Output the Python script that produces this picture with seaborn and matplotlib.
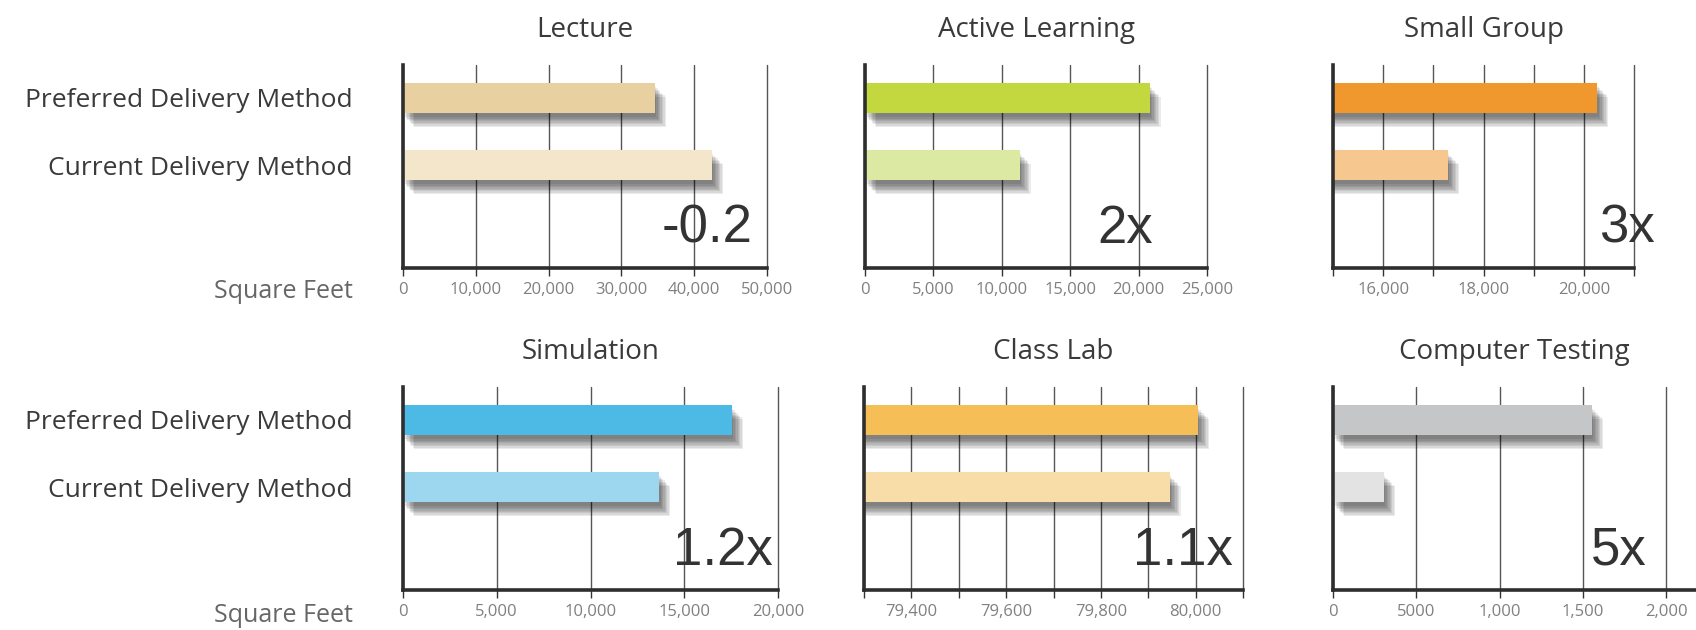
import matplotlib
matplotlib.use("Agg")
import matplotlib.pyplot as plt
import matplotlib.patheffects as pe
from matplotlib.ticker import FixedLocator
import seaborn as sns

sns.set_style("white")
plt.rcParams["font.family"] = ["Open Sans", "DejaVu Sans"]

categories = ["Preferred Delivery Method", "Current Delivery Method"]
titles = ["Lecture", "Active Learning", "Small Group",
          "Simulation", "Class Lab", "Computer Testing"]
preferred = [34600, 20800, 20270, 17550, 80005, 1556]
current = [42450, 11300, 17290, 13660, 79945, 306]
ratios = ["-0.2", "2x", "3x", "1.2x", "1.1x", "5x"]

preferred_colors = ["#E8D0A0", "#C3D83E", "#F0982E", "#4DB9E5", "#F5BE56", "#C4C6C8"]
current_colors = ["#F4E6CA", "#DCE9A2", "#F6C890", "#9CD7EF", "#F9DDA9", "#E3E3E3"]

xlims = [(0, 50000), (0, 25000), (15000, 21000),
         (0, 20000), (79300, 80100), (0, 2180)]
major_ticks = [[0, 10000, 20000, 30000, 40000, 50000],
               [0, 5000, 10000, 15000, 20000, 25000],
               [16000, 18000, 20000],
               [0, 5000, 10000, 15000, 20000],
               [79400, 79600, 79800, 80000],
               [0, 500, 1000, 1500, 2000]]
minor_ticks = [[], [], [15000, 17000, 19000, 21000], [],
               [79300, 79500, 79700, 79900, 80100], []]
tick_labels = [["0", "10,000", "20,000", "30,000", "40,000", "50,000"],
               ["0", "5,000", "10,000", "15,000", "20,000", "25,000"],
               ["16,000", "18,000", "20,000"],
               ["0", "5,000", "10,000", "15,000", "20,000"],
               ["79,400", "79,600", "79,800", "80,000"],
               ["0", "5000", "1,000", "1,500", "2,000"]]

# axes boxes in pixels: left, top, right, bottom (figure 1696 x 630)
boxes = [(403, 65, 767, 268), (865, 65, 1207, 268), (1333, 65, 1634, 268),
         (403, 387, 778, 590), (864, 387, 1243, 590), (1333, 387, 1696, 590)]
ratio_x = [0.959, 0.842, 1.07, 0.987, 0.974, 0.865]

W, H = 1696, 630
fig = plt.figure(figsize=(W / 100, H / 100), dpi=100)

# fake blurred drop shadow with stacked offset copies
shadow = [pe.SimplePatchShadow(offset=(d, -d - 2), shadow_rgbFace="k", alpha=0.08)
          for d in (1, 2, 3, 4, 5, 6, 7, 8)] + [pe.Normal()]

for i in range(6):
    l, t, r, b = boxes[i]
    ax = fig.add_axes([l / W, 1 - b / H, (r - l) / W, (b - t) / H])
    sns.barplot(x=[preferred[i], current[i]], y=categories, hue=categories,
                palette=[preferred_colors[i], current_colors[i]], legend=False,
                orient="h", width=0.45, saturation=1, ax=ax)
    for p in ax.patches:
        p.set_path_effects(shadow)
        p.set_edgecolor("none")
    ax.set_xlim(*xlims[i])
    ax.set_ylim(2.53, -0.49)
    ax.set_axisbelow(True)
    ax.xaxis.set_major_locator(FixedLocator(major_ticks[i]))
    ax.xaxis.set_minor_locator(FixedLocator(minor_ticks[i]))
    ax.set_xticklabels(tick_labels[i])
    ax.grid(True, axis="x", which="both", color="#555555", lw=1)
    for tk in ax.xaxis.get_major_ticks() + ax.xaxis.get_minor_ticks():
        tk.gridline.set_clip_on(False)
    ax.tick_params(axis="x", which="both", direction="out", length=6, width=1,
                   color="#333333", bottom=True, labelsize=12, labelcolor="#808080", pad=4)
    for s in ("top", "right"):
        ax.spines[s].set_visible(False)
    for s in ("left", "bottom"):
        ax.spines[s].set_color("#2e2e2e")
        ax.spines[s].set_linewidth(2.6)
    ax.spines["bottom"].set_zorder(3)
    ax.set_xlabel("")
    ax.set_ylabel("")
    if i % 3 == 0:
        ax.tick_params(axis="y", length=0, pad=36, labelsize=19, labelcolor="#3a3a3a")
    else:
        ax.set_yticklabels([])
        ax.tick_params(axis="y", length=0)
    ax.set_title(titles[i], fontsize=20, color="#3a3a3a", pad=20)
    ax.text(ratio_x[i], 0.125, ratios[i], transform=ax.transAxes, ha="right",
            va="baseline", fontsize=38, color="#333333",
            family=["Liberation Sans", "DejaVu Sans"], clip_on=False)

for y in (292, 615):
    fig.text(353 / W, 1 - y / H, "Square Feet", ha="right", va="center",
             fontsize=18, color="#666666")

fig.savefig("out.png", dpi=100)
